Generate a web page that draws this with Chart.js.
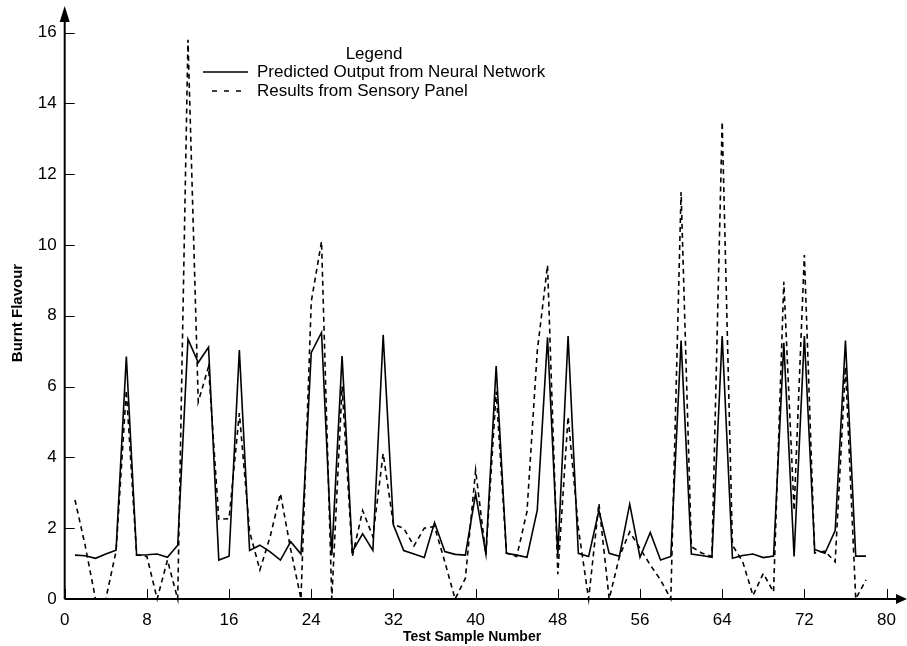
<!DOCTYPE html>
<html>
<head>
<meta charset="utf-8">
<script src="https://cdn.jsdelivr.net/npm/chart.js@4.4.1/dist/chart.umd.min.js"></script>
<style>
  html, body { margin: 0; padding: 0; background: #fff; }
  #wrap { width: 907px; height: 646px; }
</style>
</head>
<body>
<div id="wrap"><canvas id="chart" width="907" height="646"></canvas></div>
<script>
// Test sample numbers (x)
const sampleNumber = [
  1, 2, 3, 4, 5, 6, 7, 8, 9, 10, 11, 12, 13, 14, 15, 16, 17, 18, 19, 20,
  21, 22, 23, 24, 25, 26, 27, 28, 29, 30, 31, 32, 33, 34, 35, 36, 37, 38, 39, 40,
  41, 42, 43, 44, 45, 46, 47, 48, 49, 50, 51, 52, 53, 54, 55, 56, 57, 58, 59, 60,
  61, 62, 63, 64, 65, 66, 67, 68, 69, 70, 71, 72, 73, 74, 75, 76, 77, 78
];

// Predicted output from neural network (solid line)
const predictedNN = [
  1.24, 1.22, 1.15, 1.27, 1.38, 6.85, 1.24, 1.25, 1.27, 1.18,
  1.52, 7.34, 6.68, 7.11, 1.10, 1.21, 7.03, 1.37, 1.52, 1.33,
  1.10, 1.62, 1.27, 6.96, 7.53, 1.24, 6.86, 1.34, 1.84, 1.37,
  7.46, 2.09, 1.37, 1.27, 1.17, 2.16, 1.34, 1.26, 1.24, 2.98,
  1.27, 6.58, 1.29, 1.24, 1.18, 2.51, 7.39, 1.24, 7.43, 1.29,
  1.20, 2.50, 1.29, 1.21, 2.68, 1.18, 1.88, 1.10, 1.20, 7.30,
  1.27, 1.23, 1.18, 7.43, 1.15, 1.23, 1.27, 1.17, 1.21, 7.24,
  1.20, 7.43, 1.40, 1.29, 1.93, 7.30, 1.21, 1.21
];

// Results from sensory panel (dashed line)
const sensoryPanel = [
  2.80, 1.50, 0.00, 0.00, 1.35, 5.90, 1.25, 1.20, 0.00, 1.10,
  0.00, 15.80, 5.57, 6.56, 2.25, 2.27, 5.25, 1.90, 0.82, 1.76,
  2.98, 1.40, 0.00, 8.40, 10.10, 0.00, 6.00, 1.20, 2.50, 1.76,
  4.11, 2.10, 2.00, 1.50, 2.00, 2.05, 1.05, 0.00, 0.58, 3.64,
  1.25, 5.86, 1.30, 1.20, 2.47, 7.00, 9.43, 0.70, 5.15, 2.00,
  0.00, 2.70, 0.00, 1.20, 1.90, 1.43, 0.96, 0.54, 0.00, 11.50,
  1.48, 1.30, 1.20, 13.48, 1.52, 1.05, 0.10, 0.72, 0.20, 8.96,
  2.50, 9.72, 1.30, 1.35, 1.05, 6.56, 0.00, 0.54
];

const xTicks = [0, 8, 16, 24, 32, 40, 48, 56, 64, 72, 80];
const yTicks = [0, 2, 4, 6, 8, 10, 12, 14, 16];

const seriesNames = ['Predicted Output from Neural Network', 'Results from Sensory Panel'];
const xTitle = 'Test Sample Number';
const yTitle = 'Burnt Flavour';

const FONT = 'Liberation Sans, Arial, Helvetica, sans-serif';

// axes with arrows, inward ticks, axis titles and the legend
const axesPlugin = {
  id: 'axesPlugin',
  afterDraw(chart) {
    const { ctx, chartArea, scales } = chart;
    const left = chartArea.left, bottom = chartArea.bottom;
    ctx.save();
    ctx.strokeStyle = '#000';
    ctx.fillStyle = '#000';

    // axis lines
    ctx.lineWidth = 2;
    ctx.beginPath();
    ctx.moveTo(left, bottom);
    ctx.lineTo(898, bottom);
    ctx.moveTo(left, bottom);
    ctx.lineTo(left, 20);
    ctx.stroke();

    // arrow heads
    ctx.beginPath();
    ctx.moveTo(907, bottom);
    ctx.lineTo(896, bottom - 5);
    ctx.lineTo(896, bottom + 5);
    ctx.closePath();
    ctx.fill();
    ctx.beginPath();
    ctx.moveTo(left, 6);
    ctx.lineTo(left - 5, 22);
    ctx.lineTo(left + 5, 22);
    ctx.closePath();
    ctx.fill();

    // inward tick marks
    ctx.lineWidth = 1;
    ctx.beginPath();
    yTicks.forEach(v => {
      const y = Math.round(scales.y.getPixelForValue(v)) + 0.5;
      ctx.moveTo(left, y);
      ctx.lineTo(left + 10, y);
    });
    xTicks.forEach(v => {
      const x = Math.round(scales.x.getPixelForValue(v)) + 0.5;
      ctx.moveTo(x, bottom);
      ctx.lineTo(x, bottom - 10);
    });
    ctx.stroke();

    // axis titles
    ctx.font = 'bold 14px ' + FONT;
    ctx.textAlign = 'center';
    ctx.textBaseline = 'middle';
    ctx.fillText(xTitle, 472, 637);
    ctx.save();
    ctx.translate(18, 313);
    ctx.rotate(-Math.PI / 2);
    ctx.font = 'bold 15px ' + FONT;
    ctx.fillText(yTitle, 0, 0);
    ctx.restore();

    // legend
    ctx.font = '17px ' + FONT;
    ctx.textBaseline = 'middle';
    ctx.textAlign = 'center';
    ctx.fillText('Legend', 374, 54);
    ctx.textAlign = 'left';
    ctx.fillText(seriesNames[0], 257, 72);
    ctx.fillText(seriesNames[1], 257, 91);
    ctx.lineWidth = 1.5;
    ctx.beginPath();
    ctx.moveTo(203, 72);
    ctx.lineTo(248, 72);
    ctx.stroke();
    ctx.setLineDash([5, 7]);
    ctx.beginPath();
    ctx.moveTo(212, 91);
    ctx.lineTo(248, 91);
    ctx.stroke();
    ctx.restore();
  }
};

const ctx = document.getElementById('chart').getContext('2d');
new Chart(ctx, {
  type: 'line',
  data: {
    datasets: [
      {
        label: seriesNames[0],
        data: sampleNumber.map((x, i) => ({ x, y: predictedNN[i] })),
        borderColor: '#000',
        borderWidth: 1.6,
        pointRadius: 0,
        tension: 0,
        fill: false,
        clip: false,
      },
      {
        label: seriesNames[1],
        data: sampleNumber.map((x, i) => ({ x, y: sensoryPanel[i] })),
        borderColor: '#000',
        borderWidth: 1.6,
        borderDash: [5, 4],
        pointRadius: 0,
        tension: 0,
        fill: false,
        clip: false,
      },
    ],
  },
  options: {
    responsive: false,
    animation: false,
    events: [],
    layout: { padding: { top: 32.6, right: 18, left: 0, bottom: 0 } },
    plugins: {
      legend: { display: false },
      tooltip: { enabled: false },
    },
    scales: {
      x: {
        type: 'linear',
        min: 0,
        max: 80,
        afterBuildTicks: (scale) => { scale.ticks = xTicks.map(v => ({ value: v })); },
        afterFit: (scale) => { scale.height = 47; },
        grid: { display: false, drawTicks: false },
        border: { display: false },
        ticks: { color: '#000', font: { family: FONT, size: 17 }, padding: 11, maxRotation: 0, autoSkip: false },
      },
      y: {
        min: 0,
        max: 16,
        afterBuildTicks: (scale) => { scale.ticks = yTicks.map(v => ({ value: v })); },
        afterFit: (scale) => { scale.width = 64.7; },
        grid: { display: false, drawTicks: false },
        border: { display: false },
        ticks: { color: '#000', font: { family: FONT, size: 17 }, padding: 8, autoSkip: false },
      },
    },
  },
  plugins: [axesPlugin],
});
</script>
</body>
</html>
